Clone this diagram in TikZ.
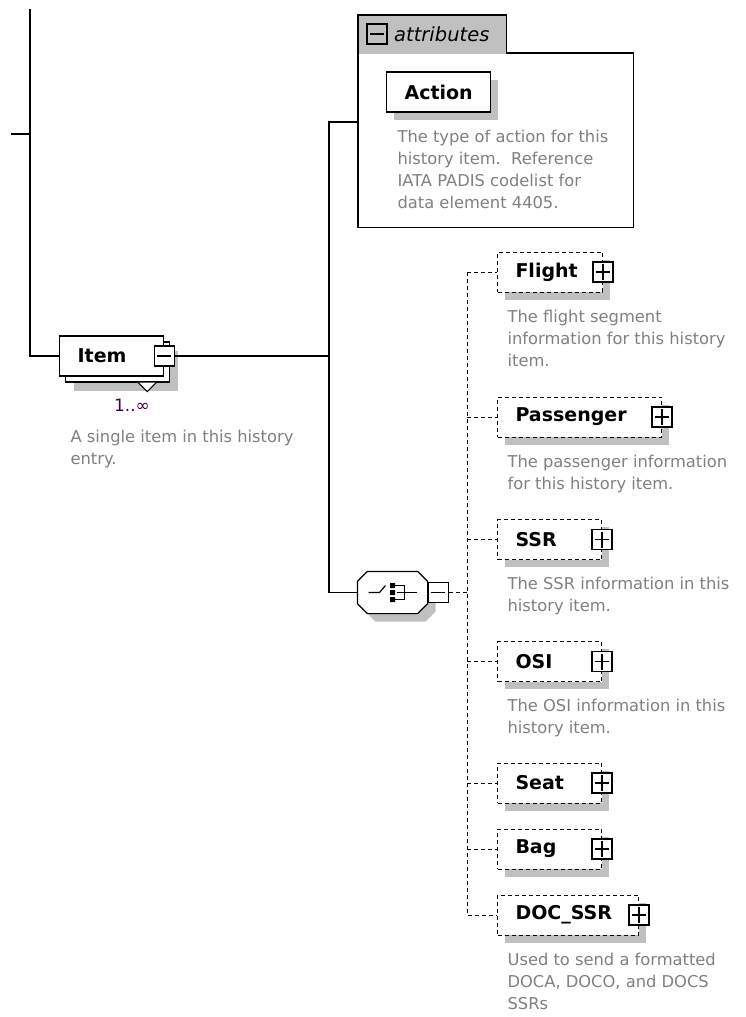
\documentclass[tikz,border=0pt]{standalone}
\usepackage{fontspec}
\setmainfont{DejaVu Sans}
\usepackage{tikz}
\usetikzlibrary{positioning,shadows}
\definecolor{boxshadow}{RGB}{192,192,192}
\definecolor{desctext}{RGB}{128,128,128}
\definecolor{multtext}{RGB}{64,0,64}
\newcommand\descfont{\fontsize{16.3pt}{22pt}\selectfont}
\newcommand\elemfont{\fontsize{19pt}{22pt}\selectfont\bfseries}

\begin{document}
\begin{tikzpicture}[x=1pt, y=-1pt, line width=1.2pt,
  graydrop/.style={drop shadow={shadow xshift=#1, shadow yshift=-#1, fill=boxshadow, opacity=1}},
  graydrop/.default=7.5pt,
  elem/.style={draw, fill=white, align=left, inner xsep=18pt, inner ysep=0pt,
    minimum height=40pt, text width=#1, font=\elemfont},
  opt/.style={elem=#1, graydrop, dash pattern=on 4pt off 3pt, line width=1pt},
  icon/.style={draw, solid, fill=white, minimum size=20pt, inner sep=0pt, line width=1.2pt},
  plusbox/.style={icon, path picture={
    \draw[line width=1.2pt] ([xshift=3pt]path picture bounding box.west) -- ([xshift=-3pt]path picture bounding box.east)
      ([yshift=-2pt]path picture bounding box.north) -- ([yshift=2pt]path picture bounding box.south);}},
  minusbox/.style={icon, path picture={
    \draw[line width=1.2pt] ([xshift=3pt]path picture bounding box.west) -- ([xshift=-3pt]path picture bounding box.east);}},
  desc/.style={font=\descfont, text=desctext, align=left, inner sep=0pt},
  link/.style={line width=1.2pt},
  optlink/.style={line width=1pt, dash pattern=on 4pt off 3pt}]
\useasboundingbox (0,0) rectangle (745,1017);

% attributes group
\node[fill=boxshadow, minimum width=147pt, minimum height=38pt, inner sep=0pt, anchor=north west] (attrtab) at (358,15) {};
\node[minimum width=274pt, minimum height=173pt, inner sep=0pt, anchor=north west] (attrbox) at (358,53) {};
\draw (attrbox.south west) |- (attrtab.north east) |- (attrbox.north east) -- (attrbox.south east) -- cycle;
\node[minusbox, fill=none] (attrminus) at (377,34) {};
\node[font=\fontsize{19.5pt}{22pt}\selectfont\itshape, inner sep=0pt, right=6pt of attrminus] (attrlabel) {attributes};
\node[elem=68pt, graydrop, anchor=west] (action) at (386,92) {Action};
\node[desc, below right=17pt and 11pt of action.south west] (actiondesc)
  {The type of action for this\\history item.\ \ Reference\\IATA PADIS codelist for\\data element 4405.};

% Item
\node[elem=68pt, anchor=west, graydrop=14.5pt, copy shadow={shadow xshift=6pt, shadow yshift=-6pt}] (item) at (59,356) {Item};
\node[minusbox] (itemminus) at (item.east) {};
\draw[fill=white, line width=1pt] ([shift={(-26,6)}]item.south east) -- ++(9,9) -- ++(9,-9);
\node[font=\fontsize{17pt}{20pt}\selectfont, text=multtext, inner sep=0pt] (itemmult) at (132,405) {1..∞};
\node[desc, below right=53pt and 11pt of item.south west] (itemdesc) {A single item in this history\\entry.};

% choice
\node[minimum width=69pt, minimum height=41pt, inner sep=0pt] (choice) at (392.5,592.5) {};
\draw[fill=white, graydrop=8pt] ([xshift=10pt]choice.north west) -- ([xshift=-10pt]choice.north east)
  -- ([yshift=-10pt]choice.north east) -- ([yshift=10pt]choice.south east)
  -- ([xshift=-10pt]choice.south east) -- ([xshift=10pt]choice.south west)
  -- ([yshift=10pt]choice.south west) -- ([yshift=-10pt]choice.north west) -- cycle;
\draw[line width=1.2pt] ([xshift=-24pt]choice.center) -- ++(11,0) -- ++(6,-7);
\fill ([shift={(-2.5,-9.5)}]choice.center) rectangle ++(5,5)
  ([shift={(-2.5,-2.5)}]choice.center) rectangle ++(5,5)
  ([shift={(-2.5,4.5)}]choice.center) rectangle ++(5,5);
\draw[line width=1.2pt] ([shift={(2,-7)}]choice.center) -| ([shift={(12,7)}]choice.center) -- ([shift={(2,7)}]choice.center)
  ([shift={(4,0)}]choice.center) -- ++(20,0);
\node[minusbox, right=0pt of choice] (choiceminus) {};

% child elements
\node[opt=69pt, anchor=west] (flight) at (497,272) {Flight};
\node[plusbox] (flightplus) at (flight.east) {};
\node[desc, below right=17pt and 10pt of flight.south west] (flightdesc)
  {The flight segment\\information for this history\\item.};
\node[opt=128pt, anchor=west] (passenger) at (497,417) {Passenger};
\node[plusbox] (passengerplus) at (passenger.east) {};
\node[desc, below right=17pt and 10pt of passenger.south west] (passengerdesc)
  {The passenger information\\for this history item.};
\node[opt=68pt, anchor=west] (ssr) at (497,539.5) {SSR};
\node[plusbox] (ssrplus) at (ssr.east) {};
\node[desc, below right=17pt and 10pt of ssr.south west] (ssrdesc)
  {The SSR information in this\\history item.};
\node[opt=68pt, anchor=west] (osi) at (497,661.5) {OSI};
\node[plusbox] (osiplus) at (osi.east) {};
\node[desc, below right=17pt and 10pt of osi.south west] (osidesc)
  {The OSI information in this\\history item.};
\node[opt=68pt, anchor=west] (seat) at (497,783) {Seat};
\node[plusbox] (seatplus) at (seat.east) {};
\node[opt=68pt, anchor=west] (bag) at (497,849) {Bag};
\node[plusbox] (bagplus) at (bag.east) {};
\node[opt=105pt, anchor=west] (docssr) at (497,915) {DOC\_SSR};
\node[plusbox] (docssrplus) at (docssr.east) {};
\node[desc, below right=17pt and 10pt of docssr.south west] (docssrdesc)
  {Used to send a formatted\\DOCA, DOCO, and DOCS\\SSRs};

% connectors
\coordinate (roottop) at (30,9);
\coordinate (roottick) at (11,134);
\coordinate (attrin) at (358,122);
\coordinate (seqtop) at (329,122);
\coordinate (optbus) at (467,272);
\draw[link] (roottop) |- (item.west);
\draw[link] (roottick) -- (roottick -| roottop);
\draw[link] (attrin) -- (seqtop) |- (choice.west);
\draw[link] (itemminus.east) -- (itemminus.east -| seqtop);
\draw[optlink] (choiceminus.east) -- (choiceminus.east -| optbus);
\draw[optlink] (optbus) |- (docssr.west);
\draw[optlink] (optbus) -- (flight.west);
\draw[optlink] (optbus |- passenger.west) -- (passenger.west);
\draw[optlink] (optbus |- ssr.west) -- (ssr.west);
\draw[optlink] (optbus |- osi.west) -- (osi.west);
\draw[optlink] (optbus |- seat.west) -- (seat.west);
\draw[optlink] (optbus |- bag.west) -- (bag.west);
\end{tikzpicture}
\end{document}
